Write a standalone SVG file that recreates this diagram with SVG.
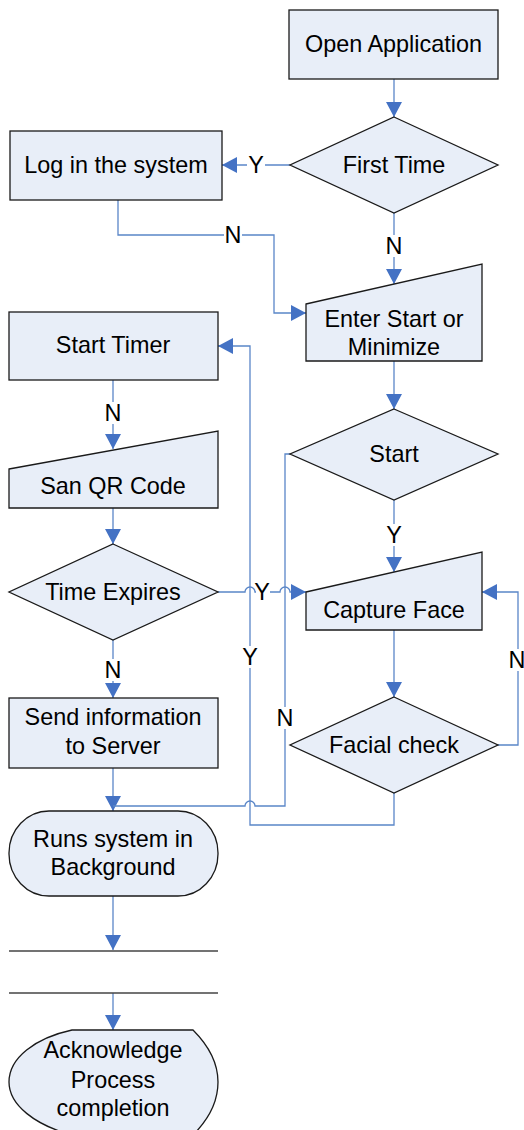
<svg xmlns="http://www.w3.org/2000/svg" width="524" height="1130" viewBox="0 0 524 1130">
<defs>
<marker id="a" markerWidth="16" markerHeight="16" refX="15" refY="8" orient="auto" markerUnits="userSpaceOnUse"><path d="M0,0 L15,8 L0,16 z" fill="#4472C4"/></marker>
<style>
.s{fill:#E8EEF8;stroke:#1a1a1a;stroke-width:1.3}
.t{font-family:"Liberation Sans",Arial,sans-serif;font-size:23.4px;fill:#000;text-anchor:middle}
.c{fill:none;stroke:#5A86C8;stroke-width:1.3}
.ca{fill:none;stroke:#5A86C8;stroke-width:1.3;marker-end:url(#a)}
.lb{fill:#fff}
.h{fill:none;stroke:#444;stroke-width:1.3}
</style>
</defs>
<rect width="524" height="1130" fill="#fff"/>
<g id="connectors">
<path class="ca" d="M394,79 V117"/>
<path class="ca" d="M290,165 H222"/>
<path class="ca" d="M118,200 V235 H274 V313 H306"/>
<path class="ca" d="M394,213 V284"/>
<path class="ca" d="M394,361 V409"/>
<path class="ca" d="M394,500 V572"/>
<path class="ca" d="M394,630 V697"/>
<path class="ca" d="M498,745 H518 V592 H482"/>
<path class="ca" d="M394,793 V825 H250 V346 H218"/>
<path class="ca" d="M113,380 V449"/>
<path class="ca" d="M113,508 V544"/>
<path class="ca" d="M218,592 H245 a5,5 0 0 1 10,0 H280 a5,5 0 0 1 10,0 H306"/>
<path class="ca" d="M113,640 V698"/>
<path class="ca" d="M113,768 V811"/>
<path class="c" d="M290,454 H285 V806 H255 a5,5 0 0 0 -10,0 H113"/>
<path class="ca" d="M113,896 V950"/>
<path class="ca" d="M113,993 V1030"/>
<g id="labels">
<rect class="lb" x="247" y="154" width="18" height="22"/><text class="t" x="256" y="173">Y</text>
<rect class="lb" x="224" y="224" width="18" height="22"/><text class="t" x="233" y="243">N</text>
<rect class="lb" x="385" y="235" width="18" height="22"/><text class="t" x="394" y="254">N</text>
<rect class="lb" x="104" y="402" width="18" height="22"/><text class="t" x="113" y="421">N</text>
<rect class="lb" x="385" y="524" width="18" height="22"/><text class="t" x="394" y="543">Y</text>
<rect class="lb" x="256" y="581" width="14" height="22"/><text class="t" x="262" y="600">Y</text>
<rect class="lb" x="241" y="646" width="18" height="22"/><text class="t" x="250" y="665">Y</text>
<rect class="lb" x="104" y="659" width="18" height="22"/><text class="t" x="113" y="678">N</text>
<rect class="lb" x="276" y="707" width="18" height="22"/><text class="t" x="285" y="726">N</text>
<rect class="lb" x="508" y="649" width="18" height="22"/><text class="t" x="517" y="668">N</text>
</g>
</g>
<g id="open-application"><rect class="s" x="289" y="10" width="209" height="69"/><text class="t" x="393.5" y="52">Open Application</text></g>
<g id="first-time"><polygon class="s" points="394,117 498,165 394,213 290,165"/><text class="t" x="394" y="173">First Time</text></g>
<g id="log-in"><rect class="s" x="10" y="131" width="212" height="69"/><text class="t" x="116" y="173">Log in the system</text></g>
<g id="enter-start"><polygon class="s" points="306,304 482,264 482,361 306,361"/><text class="t" x="394" y="327">Enter Start or</text><text class="t" x="394" y="355">Minimize</text></g>
<g id="start"><polygon class="s" points="394,409 498,454 394,500 290,454"/><text class="t" x="394" y="462">Start</text></g>
<g id="capture-face"><polygon class="s" points="306,592 482,552 482,630 306,630"/><text class="t" x="394" y="618">Capture Face</text></g>
<g id="facial-check"><polygon class="s" points="394,697 498,745 394,793 290,745"/><text class="t" x="394" y="753">Facial check</text></g>
<g id="start-timer"><rect class="s" x="9" y="312" width="209" height="68"/><text class="t" x="113" y="353">Start Timer</text></g>
<g id="scan-qr"><polygon class="s" points="9,469 218,431 218,508 9,508"/><text class="t" x="113" y="494">San QR Code</text></g>
<g id="time-expires"><polygon class="s" points="113,544 218,592 113,640 9,592"/><text class="t" x="113" y="600">Time Expires</text></g>
<g id="send-info"><rect class="s" x="9" y="698" width="209" height="70"/><text class="t" x="113" y="725">Send information</text><text class="t" x="113" y="754">to Server</text></g>
<g id="runs-background"><rect class="s" x="9" y="811" width="209" height="85" rx="40" ry="42"/><text class="t" x="113" y="847">Runs system in</text><text class="t" x="113" y="875">Background</text></g>
<g id="data-store"><line class="h" x1="9" y1="951" x2="218" y2="951"/><line class="h" x1="9" y1="993" x2="218" y2="993"/></g>
<g id="acknowledge"><path class="s" d="M72,1030 H193 C208,1045 218,1062 218,1082 C218,1102 208,1120 193,1135 H72 C35,1125 9,1105 9,1082 C9,1058 35,1038 72,1030 Z"/><text class="t" x="113" y="1058">Acknowledge</text><text class="t" x="113" y="1088">Process</text><text class="t" x="113" y="1116">completion</text></g>
</svg>
